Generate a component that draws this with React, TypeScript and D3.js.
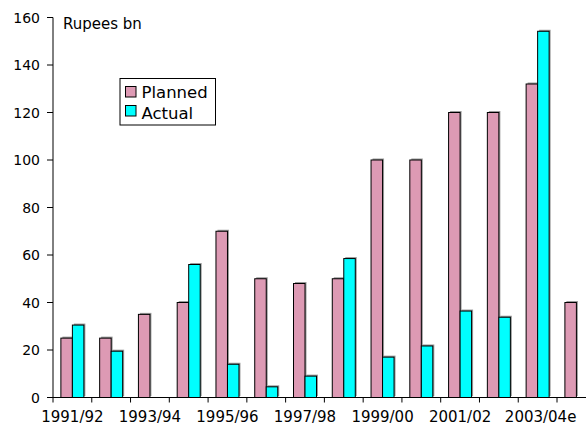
import React from "react";
import * as d3 from "d3";

const categories = [
  "1991/92", "1992/93", "1993/94", "1994/95", "1995/96", "1996/97", "1997/98",
  "1998/99", "1999/00", "2000/01", "2001/02", "2002/03", "2003/04e", "2004/05",
];
const shownLabels = ["1991/92", "1993/94", "1995/96", "1997/98", "1999/00", "2001/02", "2003/04e"];
const planned = [25, 25, 35, 40, 70, 50, 48, 50, 100, 100, 120, 120, 132, 40];
const actual: (number | null)[] = [30.5, 19.5, null, 56, 14, 4.5, 9, 58.5, 17, 21.7, 36.4, 33.8, 154.2, null];
const yTicks = [0, 20, 40, 60, 80, 100, 120, 140, 160];
const seriesNames = ["Planned", "Actual"];
const seriesColors = ["#dd9ab4", "#00ffff"];

const W = 586;
const H = 426;
const FONT = "DejaVu Sans, Verdana, sans-serif";

export default function App() {
  const x0 = 53;
  const step = 38.77;
  const x = d3.scaleBand<string>().domain(categories).range([x0, x0 + step * categories.length]).paddingInner(0).paddingOuter(0);
  const y = d3.scaleLinear().domain([0, 160]).range([397.5, 17.5]);
  const barW = 11.5;
  const groupOff = (step - 2 * barW) / 2;

  const bars: { cx: number; v: number; color: string; key: string }[] = [];
  categories.forEach((c, i) => {
    const bx = (x(c) as number) + groupOff;
    bars.push({ cx: bx, v: planned[i], color: seriesColors[0], key: `p${i}` });
    const a = actual[i];
    if (a != null) bars.push({ cx: bx + barW, v: a, color: seriesColors[1], key: `a${i}` });
  });

  const xEnd = x0 + step * categories.length;

  return (
    <svg width={W} height={H} style={{ position: "absolute", left: 0, top: 0, background: "#fff" }} fontFamily={FONT}>
      <rect x={0} y={0} width={W} height={H} fill="#fff" />
      {/* bar shadows */}
      {bars.map((b) => (
        <rect key={b.key + "s"} x={b.cx + 1.5} y={y(b.v) - 1.5} width={barW} height={y(0) - y(b.v)} fill="#9a9a9a" />
      ))}
      {bars.map((b) => (
        <rect key={b.key} x={b.cx} y={y(b.v)} width={barW} height={y(0) - y(b.v)} fill={b.color} stroke="#000" strokeWidth={1} />
      ))}
      {/* y axis */}
      <line x1={x0} x2={x0} y1={y(160)} y2={y(0)} stroke="#000" strokeWidth={1} />
      {yTicks.map((t) => (
        <g key={t}>
          <line x1={x0 - 6} x2={x0} y1={y(t)} y2={y(t)} stroke="#000" strokeWidth={1} />
          <text x={40} y={y(t)} dy="0.36em" textAnchor="end" fontSize={14} fill="#000">{t}</text>
        </g>
      ))}
      {/* x axis */}
      <line x1={x0} x2={xEnd} y1={y(0)} y2={y(0)} stroke="#000" strokeWidth={1} />
      {categories.map((c) => (
        <line key={c} x1={x(c) as number} x2={x(c) as number} y1={y(0)} y2={y(0) + 5} stroke="#000" strokeWidth={1} />
      ))}
      {shownLabels.map((c) => (
        <text key={c} x={(x(c) as number) + step / 2 + (c.endsWith("e") ? 3 : 0)} y={422} textAnchor="middle" fontSize={15} fill="#000">{c}</text>
      ))}
      <text x={63} y={29} fontSize={15} fill="#000">Rupees bn</text>
      {/* legend */}
      <rect x={120} y={78.5} width={95.5} height={46.5} fill="#fff" stroke="#000" strokeWidth={1} />
      {seriesNames.map((n, i) => (
        <g key={n}>
          <rect x={125.5} y={86.5 + i * 19} width={10.5} height={10.5} fill={seriesColors[i]} stroke="#000" strokeWidth={1} />
          <text x={141.5} y={97.5 + i * 21.5} fontSize={16.5} fill="#000">{n}</text>
        </g>
      ))}
    </svg>
  );
}
